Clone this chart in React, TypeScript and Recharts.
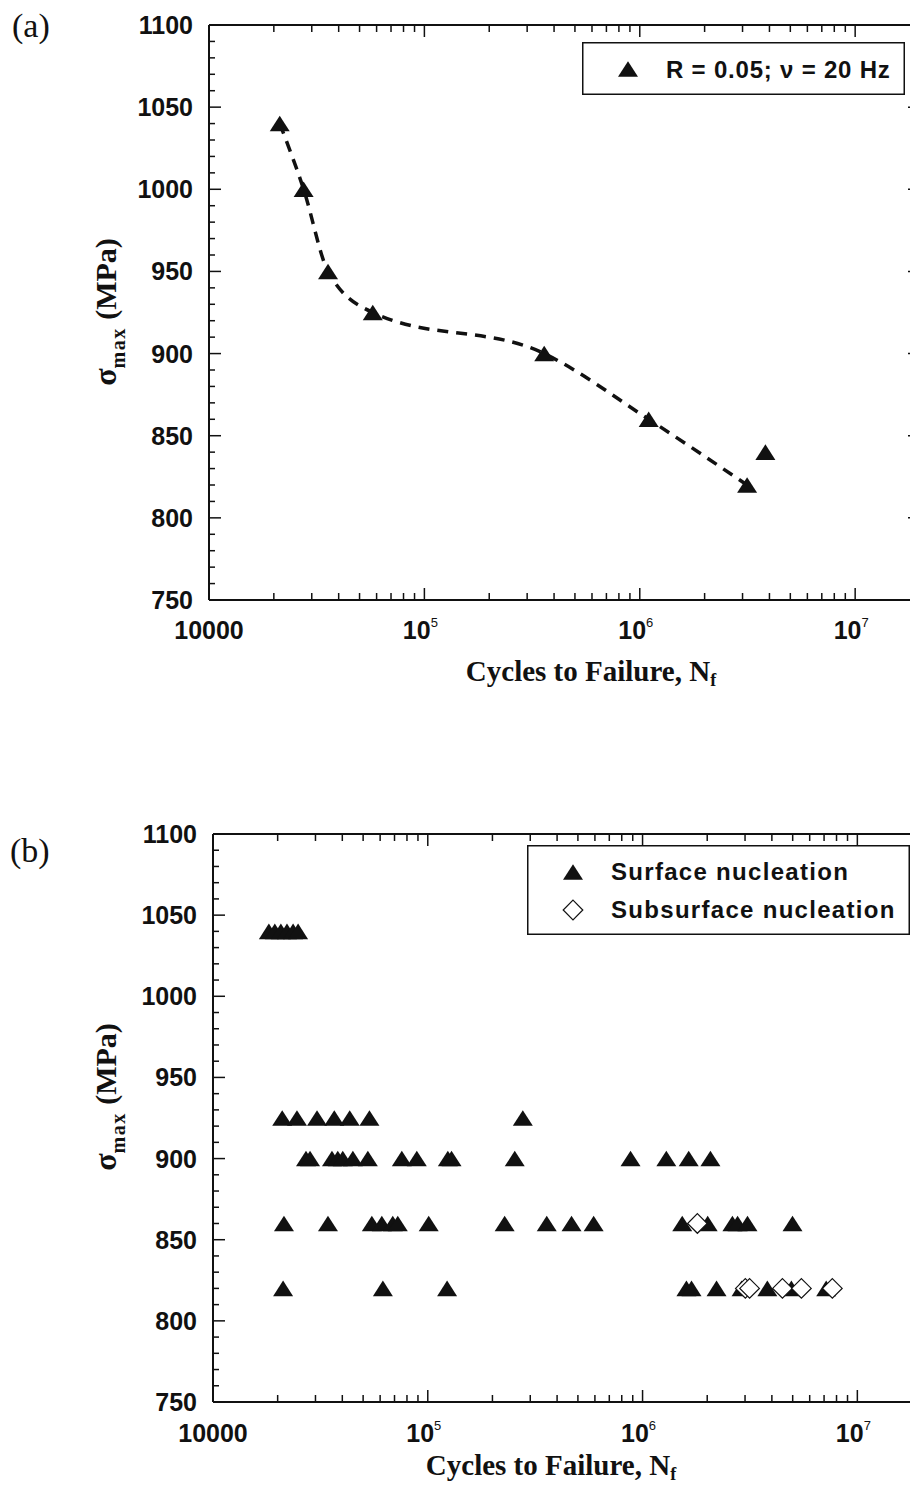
import React from 'react'
import { ComposedChart, Legend, Line, Scatter, XAxis, YAxis } from 'recharts'

// (a) R = 0.05, 20 Hz
const aCycles = [21300, 27500, 35700, 57600, 360000, 1100000, 3150000, 3830000]
const aStress = [1040, 1000, 950, 925, 900, 860, 820, 840]
const fitCount = 7 // dashed trend runs through the first seven specimens

// (b) surface nucleation
const surfCycles = [
  18200, 19400, 20700, 22100, 23600, 24900,
  21000, 24600, 30500, 36700, 43300, 53500, 277000,
  27100, 28300, 35800, 38100, 40200, 44800, 52600, 75700, 88900, 124000, 129000, 254000, 879000, 1290000, 1640000, 2070000,
  21400, 34300, 54900, 61100, 68700, 72500, 101000, 228000, 358000, 467000, 592000, 1530000, 2010000, 2620000, 2770000, 3080000, 4990000,
  21200, 61800, 123000, 1600000, 1690000, 2210000, 2890000, 3810000, 4930000, 7160000,
]
const surfStress = [
  1040, 1040, 1040, 1040, 1040, 1040,
  925, 925, 925, 925, 925, 925, 925,
  900, 900, 900, 900, 900, 900, 900, 900, 900, 900, 900, 900, 900, 900, 900, 900,
  860, 860, 860, 860, 860, 860, 860, 860, 860, 860, 860, 860, 860, 860, 860, 860, 860,
  820, 820, 820, 820, 820, 820, 820, 820, 820, 820,
]
// (b) subsurface nucleation
const subCycles = [1800000, 3010000, 3150000, 4480000, 5490000, 7650000]
const subStress = [860, 820, 820, 820, 820, 820]

const decades = [1e4, 1e5, 1e6, 1e7]
const yMajor = [750, 800, 850, 900, 950, 1000, 1050, 1100]

const xTicks: number[] = []
decades.forEach((d) => {
  if (d === 1e7) xTicks.push(d)
  else for (let m = 1; m <= 9; m++) xTicks.push(m * d)
})
const yTicks: number[] = []
for (let v = 750; v <= 1100; v += 10) yTicks.push(v)

const aData = aCycles.map((n, i) => ({ n, s: aStress[i] }))
const fitData = aData.slice(0, fitCount)
const surfData = surfCycles.map((n, i) => ({ n, s: surfStress[i] }))
const subData = subCycles.map((n, i) => ({ n, s: subStress[i] }))

const SANS = '"Liberation Sans", Arial, Helvetica, sans-serif'
const SERIF = '"Liberation Serif", "Times New Roman", serif'
const INK = '#111'

const isDecade = (v: number) => Math.abs(Math.log10(v) - Math.round(Math.log10(v))) < 1e-9
const isMajorY = (v: number) => yMajor.includes(v)

function BottomTick({ x, y, payload, labelDy }: any) {
  const v = payload.value
  const major = isDecade(v)
  const exp = Math.round(Math.log10(v))
  return (
    <g>
      <line x1={x} y1={y} x2={x} y2={y - (major ? 12 : 7)} stroke={INK} strokeWidth={1.5} />
      {major && exp === 4 && (
        <text x={x} y={y + labelDy} textAnchor="middle" fontFamily={SANS} fontWeight="bold" fontSize={25} fill={INK}>
          10000
        </text>
      )}
      {major && exp > 4 && (
        <text x={x - 4} y={y + labelDy} textAnchor="middle" fontFamily={SANS} fontWeight="bold" fontSize={25} fill={INK}>
          10
          <tspan dy={-12} fontSize={13} fontWeight="normal">
            {exp}
          </tspan>
        </text>
      )}
    </g>
  )
}

function TopTick({ x, y, payload }: any) {
  const major = isDecade(payload.value)
  return <line x1={x} y1={y} x2={x} y2={y + (major ? 12 : 7)} stroke={INK} strokeWidth={1.5} />
}

function LeftTick({ x, y, payload }: any) {
  const major = isMajorY(payload.value)
  return (
    <g>
      <line x1={x} y1={y} x2={x + (major ? 12 : 6)} y2={y} stroke={INK} strokeWidth={1.5} />
      {major && (
        <text x={x - 16} y={y + 9} textAnchor="end" fontFamily={SANS} fontWeight="bold" fontSize={25} fill={INK}>
          {payload.value}
        </text>
      )}
    </g>
  )
}

function RightTick({ x, y, payload }: any) {
  const major = isMajorY(payload.value)
  return <line x1={x} y1={y} x2={x - (major ? 12 : 6)} y2={y} stroke={INK} strokeWidth={1.5} />
}

function Tri(props: any) {
  const { cx, cy } = props
  if (cx == null || cy == null) return null
  return <polygon points={`${cx},${cy - 7.8} ${cx + 10},${cy + 7.8} ${cx - 10},${cy + 7.8}`} fill={INK} />
}

function Diamond(props: any) {
  const { cx, cy } = props
  if (cx == null || cy == null) return null
  const r = 9.8
  return (
    <polygon
      points={`${cx},${cy - r} ${cx + r},${cy} ${cx},${cy + r} ${cx - r},${cy}`}
      fill="#fff"
      stroke={INK}
      strokeWidth={1.2}
    />
  )
}

function LegendA() {
  return (
    <svg width={323} height={53} style={{ display: 'block' }}>
      <rect x={0.75} y={0.75} width={321.5} height={51.5} fill="#fff" stroke={INK} strokeWidth={1.5} />
      <Tri cx={46} cy={27} />
      <text x={84} y={36} fontFamily={SANS} fontWeight="bold" fontSize={24} letterSpacing={0.8} fill={INK}>
        R = 0.05; ν = 20 Hz
      </text>
    </svg>
  )
}

function LegendB() {
  return (
    <svg width={383} height={90} style={{ display: 'block' }}>
      <rect x={0.75} y={0.75} width={381.5} height={88.5} fill="#fff" stroke={INK} strokeWidth={1.5} />
      <Tri cx={46} cy={27} />
      <text x={84} y={35} fontFamily={SANS} fontWeight="bold" fontSize={24} letterSpacing={1.3} fill={INK}>
        Surface nucleation
      </text>
      <Diamond cx={46} cy={65} />
      <text x={84} y={73} fontFamily={SANS} fontWeight="bold" fontSize={24} letterSpacing={1.3} fill={INK}>
        Subsurface nucleation
      </text>
    </svg>
  )
}

const xCommon = {
  dataKey: 'n',
  type: 'number' as const,
  scale: 'log' as const,
  domain: [1e4, 2e7],
  allowDataOverflow: true,
  ticks: xTicks,
  interval: 0 as const,
  height: 1,
  tickSize: 0,
  tickMargin: 0,
  tickLine: false,
  axisLine: { stroke: INK, strokeWidth: 2 },
}
const yCommon = {
  dataKey: 's',
  type: 'number' as const,
  domain: [750, 1100],
  allowDataOverflow: true,
  ticks: yTicks,
  interval: 0 as const,
  width: 1,
  tickSize: 0,
  tickMargin: 0,
  tickLine: false,
  axisLine: { stroke: INK, strokeWidth: 2 },
}

function YTitle({ x, y }: { x: number; y: number }) {
  return (
    <text transform={`rotate(-90 ${x} ${y})`} x={x} y={y} textAnchor="middle" fontFamily={SERIF} fontWeight="bold" fill={INK}>
      <tspan fontSize={32}>σ</tspan>
      <tspan fontSize={20} dy={9} letterSpacing={1.5}>max</tspan>
      <tspan fontSize={30} dy={-9}> (MPa)</tspan>
    </text>
  )
}

function XTitle({ x, y }: { x: number; y: number }) {
  return (
    <text x={x} y={y} textAnchor="middle" fontFamily={SERIF} fontWeight="bold" fontSize={29} fill={INK}>
      Cycles to Failure, N
      <tspan fontSize={18} dy={5}>f</tspan>
    </text>
  )
}

export default function App() {
  const topB = 760
  return (
    <div style={{ position: 'absolute', left: 0, top: 0, width: 910, height: 1485, overflow: 'hidden', background: '#fff' }}>
      <div style={{ position: 'absolute', left: 0, top: 0 }}>
        <ComposedChart width={930} height={720} data={fitData} margin={{ top: 24, right: 9, bottom: 119, left: 208 }}>
          <XAxis xAxisId="b" {...xCommon} tick={<BottomTick labelDy={39} />} />
          <XAxis xAxisId="t" orientation="top" {...xCommon} tick={<TopTick />} />
          <YAxis yAxisId="l" {...yCommon} tick={<LeftTick />} />
          <YAxis yAxisId="r" orientation="right" {...yCommon} tick={<RightTick />} />
          <Line
            xAxisId="b"
            yAxisId="l"
            dataKey="s"
            type="monotone"
            stroke={INK}
            strokeWidth={3.5}
            strokeDasharray="11 8"
            dot={false}
            activeDot={false}
            isAnimationActive={false}
          />
          <Scatter xAxisId="b" yAxisId="l" data={aData} dataKey="s" shape={<Tri />} isAnimationActive={false} />
          <Legend
            layout="horizontal"
            verticalAlign="middle"
            align="center"
            wrapperStyle={{ left: 582, top: 42, width: 323, height: 53 }}
            content={<LegendA />}
          />
        </ComposedChart>
      </div>

      <div style={{ position: 'absolute', left: 0, top: topB }}>
        <ComposedChart width={930} height={725} margin={{ top: 73, right: 7, bottom: 82, left: 212 }}>
          <XAxis xAxisId="b" {...xCommon} tick={<BottomTick labelDy={40} />} />
          <XAxis xAxisId="t" orientation="top" {...xCommon} tick={<TopTick />} />
          <YAxis yAxisId="l" {...yCommon} tick={<LeftTick />} />
          <YAxis yAxisId="r" orientation="right" {...yCommon} tick={<RightTick />} />
          <Scatter xAxisId="b" yAxisId="l" data={surfData} dataKey="s" shape={<Tri />} isAnimationActive={false} />
          <Scatter xAxisId="b" yAxisId="l" data={subData} dataKey="s" shape={<Diamond />} isAnimationActive={false} />
          <Legend
            layout="horizontal"
            verticalAlign="middle"
            align="center"
            wrapperStyle={{ left: 527, top: 845 - topB, width: 383, height: 90 }}
            content={<LegendB />}
          />
        </ComposedChart>
      </div>

      <svg width={910} height={1485} style={{ position: 'absolute', left: 0, top: 0, pointerEvents: 'none' }}>
        <text x={12} y={37} fontFamily={SERIF} fontSize={34} fill={INK}>(a)</text>
        <text x={10} y={862} fontFamily={SERIF} fontSize={34} fill={INK}>(b)</text>
        <YTitle x={116} y={312} />
        <YTitle x={116} y={1097} />
        <XTitle x={591} y={681} />
        <XTitle x={551} y={1475} />
      </svg>
    </div>
  )
}
